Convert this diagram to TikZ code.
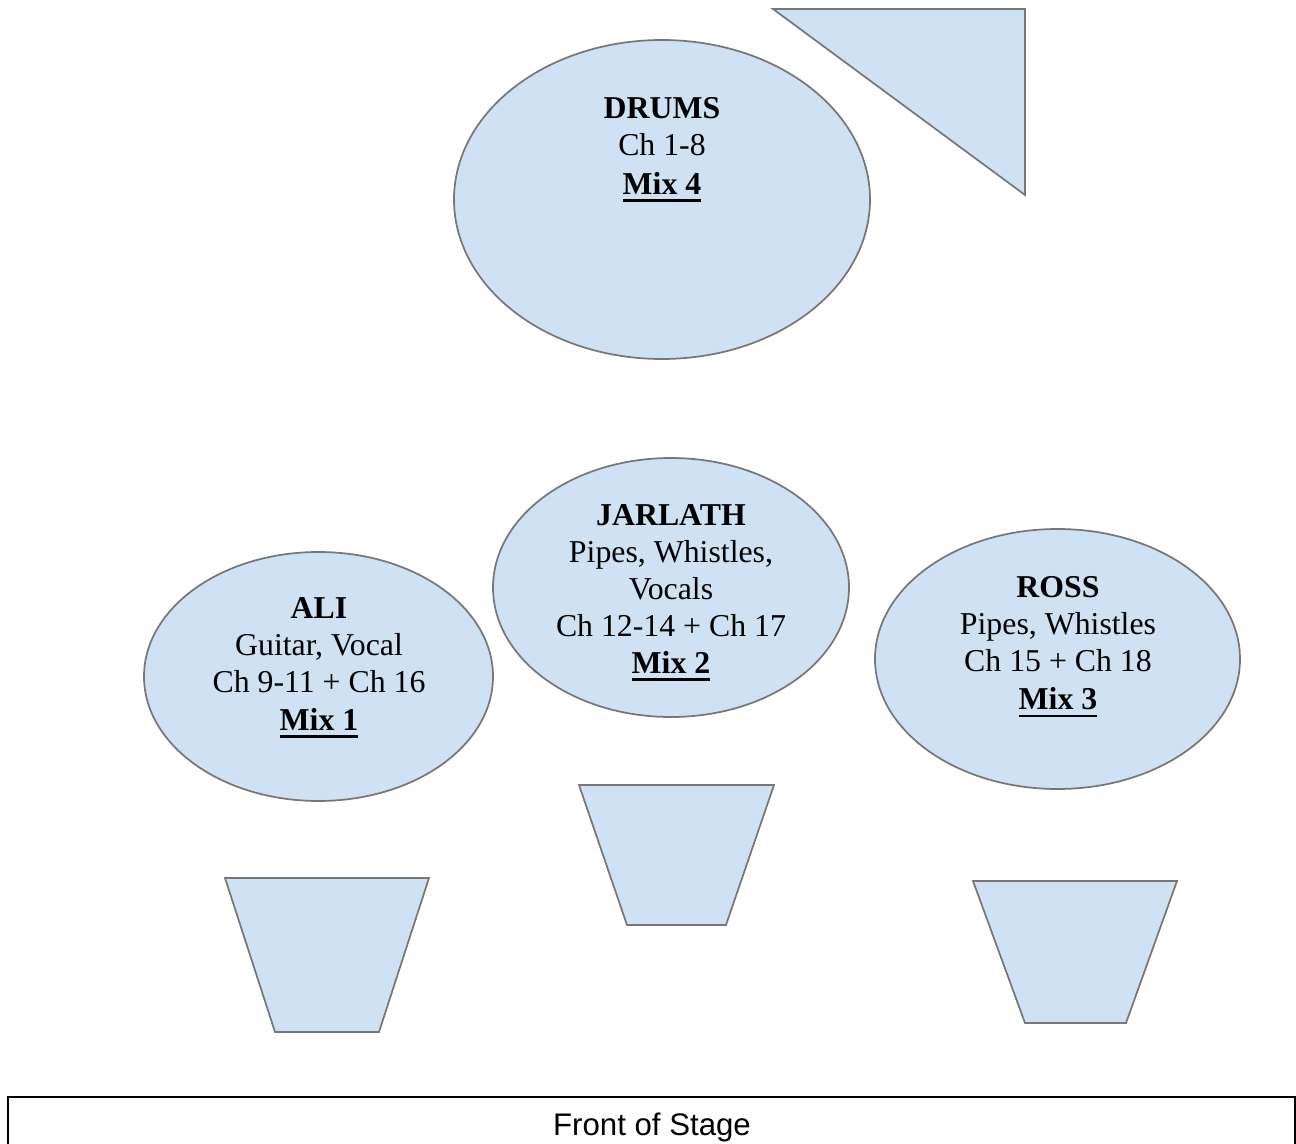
\documentclass[tikz,border=0pt]{standalone}
\usepackage{fontspec}
\setmainfont{Liberation Serif}
\setsansfont{Liberation Sans}
\usetikzlibrary{shapes.geometric}
\definecolor{paleblue}{HTML}{CFE2F3}
\definecolor{edgegray}{HTML}{777777}
\newcommand{\thickul}[1]{\leavevmode\vtop{\hbox{#1}\kern 3.6pt\hrule height 1.8pt}}
\begin{document}
\begin{tikzpicture}[x=0.75pt,y=-0.75pt,
  blob/.style={shape=ellipse,draw=edgegray,fill=paleblue,line width=1.3pt,inner sep=0pt},
  wedge/.style={draw=edgegray,fill=paleblue,line width=1.3pt,line join=miter},
  txt/.style={anchor=base,inner sep=0pt,font=\fontsize{23.85}{28}\selectfont},
  btxt/.style={txt,font=\fontsize{23.85}{28}\selectfont\bfseries}]
\useasboundingbox (0,0) rectangle (1296,1144);
% monitor wedges
\draw[wedge] (773,9) -- (1025,9) -- (1025,195) -- cycle;
\draw[wedge] (225,878) -- (429,878) -- (379,1032) -- (275,1032) -- cycle;
\draw[wedge] (579,785) -- (774,785) -- (726,925) -- (627,925) -- cycle;
\draw[wedge] (973,881) -- (1177,881) -- (1126,1023) -- (1025,1023) -- cycle;
% players
\node[blob,minimum width=312pt,minimum height=239.25pt] (drums) at (662,199.5) {};
\node[blob,minimum width=261.75pt,minimum height=186.75pt] (ali) at (318.5,676.5) {};
\node[blob,minimum width=267pt,minimum height=194.25pt] (jarlath) at (671,587.5) {};
\node[blob,minimum width=273.75pt,minimum height=195pt] (ross) at (1057.5,659) {};
% drums text
\node[btxt] (d1) at (662,118.5) {DRUMS};
\node[txt] (d2) at (662,156) {Ch 1-8};
\node[btxt] (d3) at (662,194.5) {\thickul{Mix 4}};
% jarlath text
\node[btxt] (j1) at (671,525.5) {JARLATH};
\node[txt] (j2) at (671,562.5) {Pipes, Whistles,};
\node[txt] (j3) at (671,599.5) {Vocals};
\node[txt] (j4) at (671,636.5) {Ch 12-14 + Ch 17};
\node[btxt] (j5) at (671,673.5) {\thickul{Mix 2}};
% ali text
\node[btxt] (a1) at (319,618.5) {ALI};
\node[txt] (a2) at (319,655.5) {Guitar, Vocal};
\node[txt] (a3) at (319,692.5) {Ch 9-11 + Ch 16};
\node[btxt] (a4) at (319,730.5) {\thickul{Mix 1}};
% ross text
\node[btxt] (r1) at (1058,597.5) {ROSS};
\node[txt] (r2) at (1058,634.5) {Pipes, Whistles};
\node[txt] (r3) at (1058,671.5) {Ch 15 + Ch 18};
\node[btxt] (r4) at (1058,709.5) {\thickul{Mix 3}};
% front of stage
\draw[line width=1.1pt] (8,1150) -- (8,1097) -- (1295,1097) -- (1295,1150);
\node[anchor=base,inner sep=0pt,font=\sffamily\fontsize{23.4}{28}\selectfont] (front) at (652,1135) {Front of Stage};
\end{tikzpicture}
\end{document}
